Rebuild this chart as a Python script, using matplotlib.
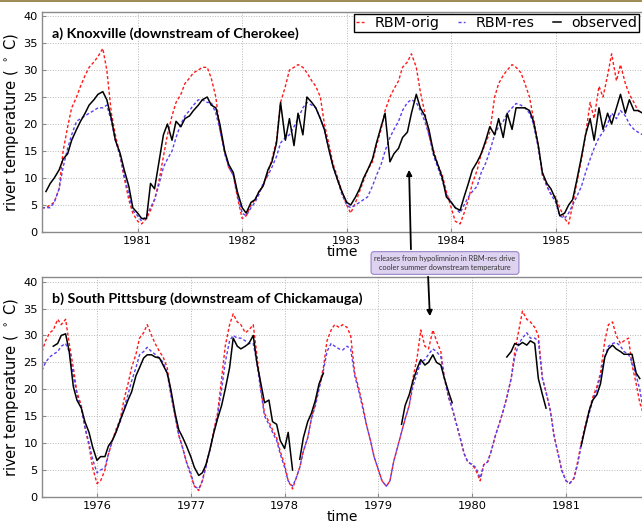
import numpy as np
import pandas as pd
import matplotlib
matplotlib.use("Agg")
import matplotlib.pyplot as plt
from matplotlib.patches import Rectangle, FancyArrowPatch

nan = np.nan

# ---------------- Panel a: Knoxville (semi-monthly, 1980-02-01 .. 1985-11-01)
knox_start, knox_end = "1980-02-01", "1985-11-01"
knox_orig = [
    4.5, 4.5, 5, 5.5, 8, 15, 19.5, 23, 25, 27, 29, 30.5, 31.5, 32.5, 34, 30, 22, 18, 14, 10, 6, 3.5,
    2, 1.5, 2.5, 4, 6, 9, 14, 18, 21.5, 24, 25.5, 27.5, 28.5, 29.5, 30, 30.5, 30.5, 28.5, 25, 19, 15, 12, 10.5, 6.5,
    2.5, 3, 5, 6, 7.5, 8.5, 11, 13.5, 17, 24, 27, 30, 30.5, 31, 30.5, 29.5, 28, 27, 25, 20, 16, 12.5, 10, 7.5,
    5, 3.5, 5.5, 7.5, 9.5, 11.5, 13, 16, 19, 22.5, 25, 26.5, 28, 30.5, 31.5, 33, 30.5, 26, 22, 18, 15, 12.5, 10.5, 7.5,
    4.5, 2, 1.5, 3.5, 6, 9, 11.5, 14.5, 16.5, 18.5, 25, 27.5, 29, 30, 31, 30.5, 29.5, 27.5, 25, 21, 16, 10.5, 8.5, 7,
    6.5, 4.5, 2.5, 1.5, 5, 9, 13.5, 18, 24, 21, 27, 25, 29, 33, 28, 31, 27.5, 25.5, 24, 22.5, 22,
]
knox_res = [
    4.5, 4.5, 4.5, 5.5, 8, 12, 15.5, 18, 20.5, 21, 21.5, 22, 22.5, 23, 23, 23.5, 20.5, 17, 14, 10.5, 7, 4,
    3, 2, 3, 4.5, 6, 8.5, 12, 13.5, 15, 17.5, 20, 21.5, 22.5, 23.5, 24.5, 24.5, 24, 24, 22, 19, 14.5, 12, 10.5, 7,
    3.5, 3, 4.5, 5.5, 7, 9, 10.5, 12, 14, 16.5, 17.5, 18, 19.5, 21, 23, 24, 23.5, 23, 21, 19, 15, 12, 9.5, 7,
    5, 4.5, 5, 5.5, 6, 6.5, 8.5, 10.5, 12.5, 15, 17.5, 19, 20.5, 22.5, 24, 24.5, 24, 22.5, 20.5, 18, 14, 12, 9.5, 7,
    5.5, 4.5, 3.5, 5, 6.5, 7.5, 8.5, 11, 12.8, 15, 18, 19.5, 20.5, 22, 23, 23.8, 23.5, 23, 22, 20, 15.5, 11, 8.5, 7,
    5.5, 3, 2.5, 3.5, 5, 6.5, 8.5, 11, 13.5, 15.5, 17.5, 18.5, 20, 22, 21, 22.5, 21.5, 20, 19, 18.5, 18,
]
knox_obs = [
    nan, 7.5, 9, 10, 11.5, 13.5, 14.5, 17, 19, 20.5, 22, 23.5, 24.5, 25.5, 26, 24.5, 21, 17, 14.5, 11.5, 8.5, 4.5,
    3.5, 2.5, 2.5, 9, 8, 12.5, 18, 20, 17, 20.5, 19.5, 21, 21.5, 22.5, 23.5, 24.5, 25, 23.5, 23, 20, 15, 12.5, 11, 7.5,
    4.5, 3.5, 5.5, 6, 7.5, 8.5, 11.5, 13, 16.5, 24, 17, 21, 16, 22, 18, 25, 24, 23, 21, 19, 15, 12, 9.5, 7.5,
    5.5, 5, 6.5, 8, 10, 11.5, 13.5, 16.5, 19.5, 22, 13, 14.5, 15.5, 17.5, 18.5, 22, 25.5, 23, 21.5, 19, 14.5, 12.5, 10, 6.5,
    5.5, 4.5, 4, 6.5, 9, 11.5, 13, 14.5, 17, 19.5, 18, 21, 17.5, 22, 19, 23, 23, 23, 22.5, 20.5, 16, 11, 9, 8,
    6, 3, 3.5, 5, 6, 9.5, 14, 18, 21, 17, 23, 19, 22, 20, 23, 25.5, 22, 24.5, 22.5, 22.5, 22,
]
knox_years = [1981, 1982, 1983, 1984, 1985]

# ---------------- Panel b: South Pittsburg (semi-monthly, 1975-06-01 .. 1981-11-01)
sp_start, sp_end = "1975-06-01", "1981-11-01"
sp_orig = [
    27, 29, 30.5, 31, 33, 32, 33, 28.5, 24, 19.5, 17, 13, 9.5, 5.5,
    2.5, 3, 5, 8, 10.5, 12.5, 14.5, 18, 21, 24, 26.5, 29.5, 30.5, 32, 30, 28.5, 27, 26, 24, 19.5, 15, 11.5, 9, 6.5,
    4, 2, 1.2, 3, 6, 8.5, 12.5, 15.5, 22, 28, 32, 34, 32.5, 32, 30.5, 31, 32, 26.5, 20, 15.5, 14, 12.5, 11, 8.5,
    6, 3, 1.5, 3.5, 5.5, 8.5, 11, 14.5, 17.5, 20.5, 24, 29, 31, 32, 31.5, 32, 31.5, 30, 23, 20.5, 17, 13.5, 10.5, 7.5,
    5, 3, 2, 3, 6.5, 9, 12, 14.5, 17, 22, 26, 31, 28, 27.5, 31, 29, 27, 22, 18.5, 16.5, 13.5, 11, 8, 6.5,
    6, 5, 3, 6, 6.5, 8.5, 11.5, 13.5, 16, 18.5, 22, 27, 31, 34.5, 33, 32.5, 31.5, 30, 22, 19.5, 16, 11.5, 8, 5,
    3, 2.5, 3.5, 6.5, 10, 13, 16, 18.5, 20.5, 23, 29, 32, 32.5, 30, 28.5, 29, 29.5, 24.5, 21, 17.5, 15,
]
sp_res = [
    23.5, 25, 26, 26.5, 27, 28, 28.5, 27, 22.5, 19, 16.5, 13, 10, 7,
    4.5, 5, 5.5, 8, 10.5, 12, 14, 16.5, 19, 21.5, 24, 26.4, 27, 27.8, 27, 26.5, 25.8, 25, 23, 19, 15, 11.5, 9, 6.5,
    4.5, 2, 1.5, 3, 5.5, 8.5, 12, 15, 20, 25, 29, 30, 29.5, 29.5, 29, 28.5, 28.5, 25, 19.5, 15, 13.5, 12, 10.5, 8,
    5.5, 3, 2, 3.5, 5.5, 8.5, 11, 14.5, 17, 20, 23.5, 27, 28.5, 28, 27.5, 27.3, 28, 27.5, 22.5, 20, 16.5, 13.5, 10.5, 7.5,
    5, 3, 2, 3, 6.5, 9, 12, 14.5, 17, 20.5, 23, 25, 25.5, 26.5, 27.5, 27, 26, 22, 18.5, 16.5, 13.5, 11, 8, 6.5,
    6, 5.5, 3.5, 6, 6.5, 8.5, 11.5, 13.5, 16, 18.5, 22, 26, 28.5, 29.5, 30.5, 29.5, 29.5, 29, 22, 19.5, 16, 11.5, 8, 5,
    3, 2.5, 3.5, 6, 9.5, 12.5, 15.5, 18, 20, 22.5, 26, 28, 28.5, 28.7, 28, 27, 26.5, 25, 22.5, 20, 15,
]
sp_obs = [
    nan, nan, nan, 28, 28.5, 30, 30.3, 27, 20.5, 18, 16.5, 14, 12, 9.3,
    6.8, 7.5, 7.5, 9.5, 10.5, 12, 14.3, 16, 18, 19.5, 22.5, 24, 25.8, 26.4, 26.4, 26, 25.8, 24.5, 23, 20, 15.5, 12.5, 11, 9.5,
    7.5, 5.5, 4, 4.5, 6, 8.5, 12, 14.5, 17, 20, 24, 29.5, 28, 27.5, 28, 28.5, 30, 25, 21, 17.5, 18, 14, 13.5, 10.5,
    9, 12, 5, nan, 7, 11, 14, 15.5, 18, 21, 23, nan, nan, nan, nan, nan, nan, nan, nan, nan, nan, nan, nan, nan,
    nan, nan, nan, nan, nan, nan, 13.5, 17, 19, 21.5, 23.9, 25.5, 24.5, 25, 26.4, 25, 24.5, 22, 19.5, 17.5, nan, nan, nan, nan,
    nan, nan, nan, nan, nan, nan, nan, nan, nan, 26, 27, 28.5, 28.2, 28.7, 28.2, 29, 28.5, 22, 19, 16.5, nan, nan, nan, nan,
    nan, nan, nan, nan, 9.5, 12.5, 16, 18, 19, 21, 26, 27.5, 28.2, 27.5, 27, 26.5, 26.5, 26.5, 23, 22, nan,
]
sp_years = [1976, 1977, 1978, 1979, 1980, 1981]

series_labels = ["RBM-orig", "RBM-res", "observed"]
titles = ["a) Knoxville (downstream of Cherokee)",
          "b) South Pittsburg (downstream of Chickamauga)"]
note = "releases from hypolimnion in RBM-res drive\ncooler summer downstream temperature"


def decimal_years(start, end):
    d = pd.date_range(start, end, freq="SMS")
    ylen = np.where(d.is_leap_year, 366.0, 365.0)
    return d.year + (d.dayofyear - 1) / ylen


RED = "#ff1a1a"
BLUE = "#5a3ff0"
GRID = "#b8b8b8"
SPINE = "#8a8a8a"

fig = plt.figure(figsize=(6.42, 5.25), dpi=100)
W, H = 642.0, 525.0

def px_axes(l, t, r, b):
    return fig.add_axes([l / W, 1 - b / H, (r - l) / W, (b - t) / H])

ax1 = px_axes(42, 12, 642, 232)
ax2 = px_axes(42, 277, 642, 497)

panels = [
    (ax1, decimal_years(knox_start, knox_end), knox_orig, knox_res, knox_obs,
     knox_years, (1980.085, 1985.825), 40.75, titles[0]),
    (ax2, decimal_years(sp_start, sp_end), sp_orig, sp_res, sp_obs,
     sp_years, (1975.414, 1981.81), 40.85, titles[1]),
]

for ax, t, o, r, ob, yrs, xl, ytop, title in panels:
    l1, = ax.plot(t, o, color=RED, lw=1.0, ls=(0, (2.2, 1.6)), label=series_labels[0])
    l2, = ax.plot(t, r, color=BLUE, lw=1.0, ls=(0, (2.2, 1.6)), label=series_labels[1])
    l3, = ax.plot(t, ob, color="black", lw=1.1, label=series_labels[2])
    ax.set_xlim(*xl)
    ax.set_ylim(0, ytop)
    ax.set_xticks(yrs)
    ax.set_xticklabels([str(y) for y in yrs])
    ax.set_yticks([0, 5, 10, 15, 20, 25, 30, 35, 40])
    ax.grid(True, ls=":", color=GRID, lw=0.7)
    for s in ["left", "bottom", "top"]:
        ax.spines[s].set_color(SPINE)
        ax.spines[s].set_linewidth(1.0)
    ax.spines["right"].set_visible(False)
    ax.tick_params(labelsize=8.2, length=3, direction="in", color=SPINE, pad=3)
    ax.set_xlabel("time", fontsize=10, labelpad=-1)
    ax.set_ylabel("river temperature ( $^\\circ$ C)", fontsize=10.6, labelpad=2)
    ax.text(0.016, 0.9, title, transform=ax.transAxes, fontsize=10.3,
            fontweight="bold", family="Lato", va="center", ha="left")

ax1.legend(handles=[l1, l2, l3], loc="upper right", bbox_to_anchor=(0.995, 0.992),
           ncol=3, fontsize=10.3, frameon=True, fancybox=False, edgecolor="black",
           handlelength=0.55, handletextpad=0.7, columnspacing=1.3, borderpad=0.15,
           borderaxespad=0.0, framealpha=1)
ax1.get_legend().get_frame().set_linewidth(1.0)

# top decorative rule
fig.add_artist(Rectangle((0, 1 - 2 / H), 1, 2 / H, transform=fig.transFigure,
                         color="#a08c55", lw=0))

# annotation box and arrows
fig.text(445 / W, 1 - 263 / H, note, ha="center", va="center", fontsize=5.3,
         family="Lato", color="#333333", linespacing=1.35,
         bbox=dict(boxstyle="round,pad=0.45,rounding_size=0.4",
                   facecolor="#ddd3f0", edgecolor="#9a84c8", lw=0.8))
fig.add_artist(FancyArrowPatch((411 / W, 1 - 252 / H), (409 / W, 1 - 167 / H),
                               transform=fig.transFigure, arrowstyle="-|>",
                               mutation_scale=8, lw=1.3, color="black"))
fig.add_artist(FancyArrowPatch((428 / W, 1 - 274 / H), (430 / W, 1 - 319 / H),
                               transform=fig.transFigure, arrowstyle="-|>",
                               mutation_scale=8, lw=1.3, color="black"))

fig.savefig("out.png", dpi=100)
